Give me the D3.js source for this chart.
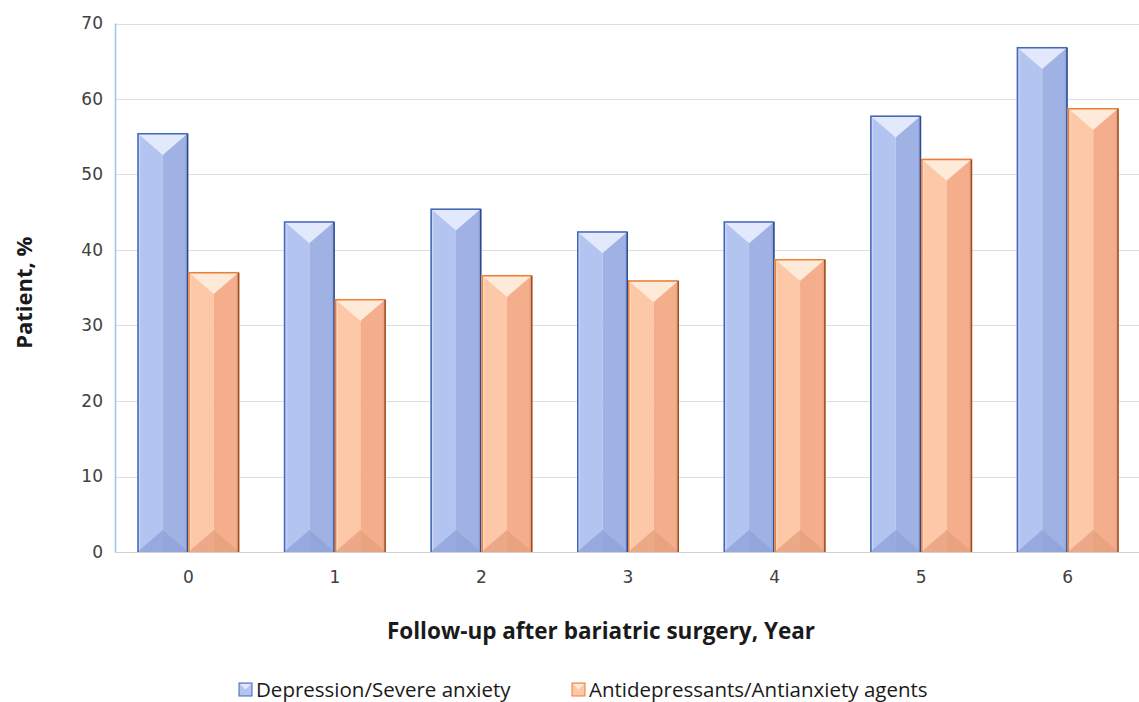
<!DOCTYPE html>
<html>
<head>
<meta charset="utf-8">
<script src="https://cdn.jsdelivr.net/npm/d3@7"></script>
<style>
  html, body { margin: 0; padding: 0; background: #fff; overflow: hidden; }
  svg { display: block; }
</style>
</head>
<body>
<svg id="chart" width="1139" height="702"></svg>
<script>
// Follow-up years and the share of patients (%) in each group
const years = ["0", "1", "2", "3", "4", "5", "6"];
const seriesNames = ["Depression/Severe anxiety", "Antidepressants/Antianxiety agents"];
const depression = [55.5, 43.8, 45.5, 42.5, 43.8, 57.8, 66.9];
const antidepressants = [37.1, 33.5, 36.7, 36.0, 38.8, 52.1, 58.8];
const yTicks = [0, 10, 20, 30, 40, 50, 60, 70];

// Bevelled fill palettes, one per series
const palettes = [
  { left: "#b4c4f0", right: "#a0b2e4", top: "#e2e9fc", bottom: "#8ea1d9",
    stroke: "#4468b8", strokeDark: "#2e4a8c" },
  { left: "#fdc8a8", right: "#f4ae8c", top: "#feead8", bottom: "#e59f7e",
    stroke: "#ec7f35", strokeDark: "#9c4f22" }
];

const svg = d3.select("#chart");
const width = 1139, height = 702;
const margin = { left: 115, right: -2, top: 23.5, bottom: 150 };
const plotBottom = 552;

const x0 = d3.scaleBand()
  .domain(years)
  .range([margin.left, width - margin.right])
  .paddingInner(0.304)
  .paddingOuter(0.152);

const x1 = d3.scaleBand()
  .domain([0, 1])
  .range([0, x0.bandwidth()]);

const y = d3.scaleLinear()
  .domain([0, 70])
  .range([plotBottom, margin.top]);

// Gridlines
svg.append("g")
  .selectAll("line")
  .data(yTicks)
  .join("line")
  .attr("x1", margin.left)
  .attr("x2", width)
  .attr("y1", d => Math.round(y(d)) + 0.5)
  .attr("y2", d => Math.round(y(d)) + 0.5)
  .attr("stroke", d => d === 0 ? "#cfcfcf" : "#dedede")
  .attr("stroke-width", 1.2);

// Y axis line
svg.append("line")
  .attr("x1", margin.left + 0.5).attr("x2", margin.left + 0.5)
  .attr("y1", y(70)).attr("y2", plotBottom)
  .attr("stroke", "#9cc3ea").attr("stroke-width", 1.5);

// Y tick labels
const yAxis = d3.axisLeft(y).tickValues(yTicks).tickSize(0).tickPadding(12);
const yg = svg.append("g").attr("transform", `translate(${margin.left},0)`).call(yAxis);
yg.select(".domain").remove();
yg.selectAll("text")
  .attr("font-family", "DejaVu Sans, Verdana, sans-serif")
  .attr("font-size", 17)
  .attr("fill", "#404040");

// X tick labels
const xAxis = d3.axisBottom(x0).tickSize(0).tickPadding(19);
const xg = svg.append("g").attr("transform", `translate(0,${plotBottom})`).call(xAxis);
xg.select(".domain").remove();
xg.selectAll("text")
  .attr("font-family", "DejaVu Sans, Verdana, sans-serif")
  .attr("font-size", 17)
  .attr("fill", "#404040");

// Draws one bevelled bar into a group
function bevelBar(g, x, yTop, w, yBot, pal) {
  const h = yBot - yTop;
  const depth = Math.min(22, h / 2);
  const xc = x + w / 2;
  g.append("rect").attr("x", x).attr("y", yTop).attr("width", w / 2).attr("height", h)
    .attr("fill", pal.left);
  g.append("rect").attr("x", xc).attr("y", yTop).attr("width", w / 2).attr("height", h)
    .attr("fill", pal.right);
  // side strips
  g.append("rect").attr("x", x).attr("y", yTop).attr("width", 3).attr("height", h)
    .attr("fill", pal.top).attr("opacity", 0.45);
  g.append("rect").attr("x", x + w - 3).attr("y", yTop).attr("width", 3).attr("height", h)
    .attr("fill", pal.bottom).attr("opacity", 0.6);
  // top bevel
  g.append("path")
    .attr("d", `M${x},${yTop}L${x + w},${yTop}L${xc},${yTop + depth}Z`)
    .attr("fill", pal.top);
  // bottom bevel
  g.append("path")
    .attr("d", `M${x},${yBot}L${x + w},${yBot}L${xc},${yBot - depth}Z`)
    .attr("fill", pal.bottom).attr("opacity", 0.75);
  // outline: lit edges then shaded edges
  g.append("path")
    .attr("d", `M${x + 0.75},${yBot}L${x + 0.75},${yTop + 0.75}L${x + w - 0.75},${yTop + 0.75}`)
    .attr("fill", "none").attr("stroke", pal.stroke).attr("stroke-width", 1.5);
  g.append("path")
    .attr("d", `M${x + w - 0.75},${yTop + 0.75}L${x + w - 0.75},${yBot}`)
    .attr("fill", "none").attr("stroke", pal.strokeDark).attr("stroke-width", 1.5);
}

const seriesValues = [depression, antidepressants];
const bars = svg.append("g");
years.forEach((yr, i) => {
  seriesValues.forEach((vals, s) => {
    const bx = x0(yr) + x1(s);
    bevelBar(bars.append("g"), bx, y(vals[i]), x1.bandwidth(), y(0), palettes[s]);
  });
});

// Axis titles
svg.append("text")
  .attr("transform", `translate(32,${(y(70) + plotBottom) / 2 + 5}) rotate(-90)`)
  .attr("text-anchor", "middle")
  .attr("font-family", "Open Sans, Lato, sans-serif")
  .attr("font-weight", "bold")
  .attr("font-size", 22)
  .attr("fill", "#1a1a1a")
  .text("Patient, %");

svg.append("text")
  .attr("x", 601)
  .attr("y", 639)
  .attr("text-anchor", "middle")
  .attr("font-family", "Open Sans, Lato, sans-serif")
  .attr("font-weight", "bold")
  .attr("font-size", 22.5)
  .attr("fill", "#1a1a1a")
  .text("Follow-up after bariatric surgery, Year");

// Legend
const legendX = [239, 572];
const legend = svg.append("g");
seriesNames.forEach((name, s) => {
  const g = legend.append("g");
  bevelMarker(g, legendX[s], 683, 13, palettes[s]);
  g.append("text")
    .attr("x", legendX[s] + 17)
    .attr("y", 697)
    .attr("font-family", "Open Sans, Lato, sans-serif")
    .attr("font-size", 20.5)
    .attr("fill", "#1a1a1a")
    .text(name);
});

function bevelMarker(g, x, yTop, size, pal) {
  g.append("rect").attr("x", x).attr("y", yTop).attr("width", size).attr("height", size)
    .attr("fill", pal.left).attr("stroke", pal.stroke).attr("stroke-width", 1);
  g.append("path")
    .attr("d", `M${x + 1},${yTop + 1}L${x + size - 1},${yTop + 1}L${x + size / 2},${yTop + size / 2}Z`)
    .attr("fill", pal.top);
}
</script>
</body>
</html>
